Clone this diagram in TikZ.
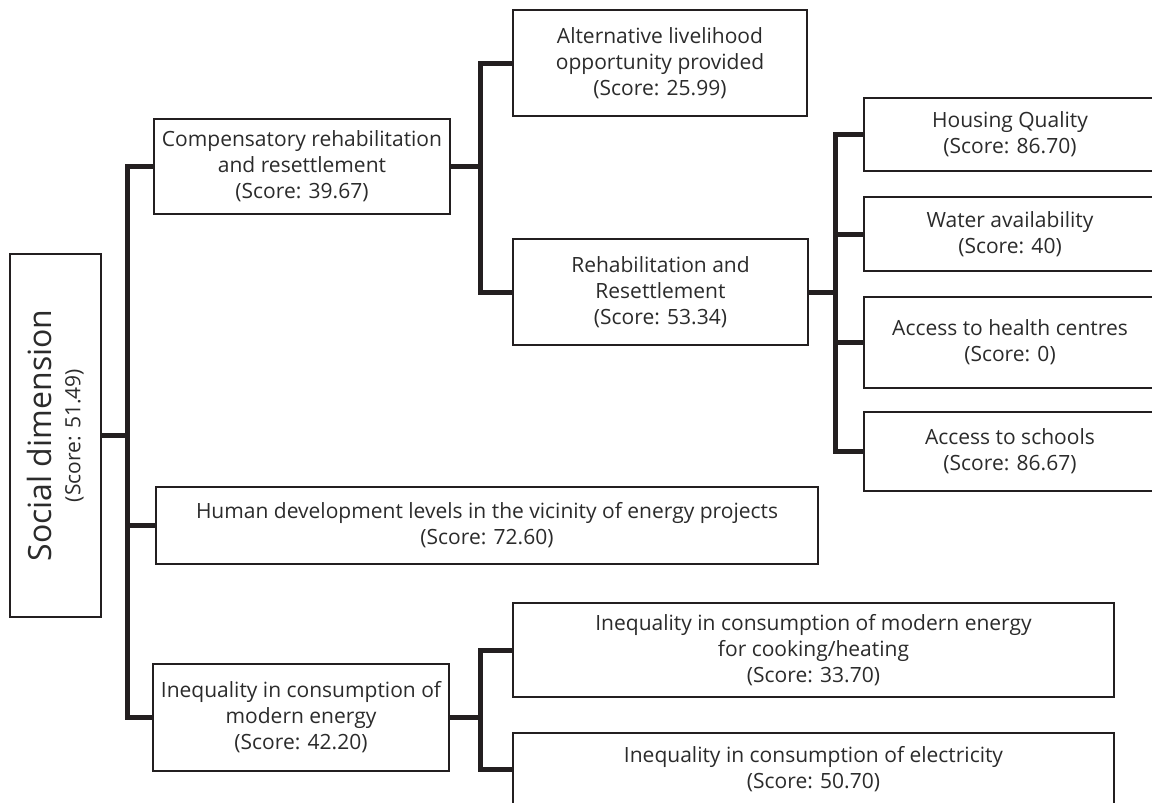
\documentclass[tikz,border=0pt]{standalone}
\usepackage{fontspec}
\setmainfont{Open Sans}
\usetikzlibrary{calc}
\definecolor{ink}{HTML}{231F20}
\definecolor{txt}{HTML}{2B2B2B}
\tikzset{
  box/.style={draw=ink, line width=2.4pt, fill=white, rectangle, inner sep=0pt,
    align=center, text=txt, font=\fontsize{21}{26}\selectfont},
  conn/.style={draw=ink, line width=5pt, line join=miter}
}
\begin{document}
\begin{tikzpicture}[x=1pt,y=-1pt]
\useasboundingbox (0,0) rectangle (1152,803);
\clip (0,0) rectangle (1152,803);
% nodes
\node[box, rotate=90, minimum width=363pt, minimum height=91pt] (root) at (55.5,435.5)
  {{\fontsize{32}{36}\selectfont Social dimension}\\[3pt](Score: 51.49)};
\node[box, minimum width=296pt, minimum height=95pt] (comp) at (302,166.5)
  {Compensatory rehabilitation\\and resettlement\\(Score: 39.67)};
\node[box, minimum width=294pt, minimum height=106pt] (alt) at (660,63)
  {Alternative livelihood\\opportunity provided\\(Score: 25.99)};
\node[box, minimum width=295pt, minimum height=106pt] (rehab) at (660.5,292)
  {Rehabilitation and\\Resettlement\\(Score: 53.34)};
\node[box, minimum width=292pt, minimum height=73pt] (housing) at (1010,134.5)
  {Housing Quality\\(Score: 86.70)};
\node[box, minimum width=292pt, minimum height=74pt] (water) at (1010,234)
  {Water availability\\(Score: 40)};
\node[box, minimum width=292pt, minimum height=91pt] (health) at (1010,342.5)
  {Access to health centres\\(Score: 0)};
\node[box, minimum width=292pt, minimum height=79pt] (schools) at (1010,451.5)
  {Access to schools\\(Score: 86.67)};
\node[box, minimum width=662pt, minimum height=77pt] (human) at (487,525.5)
  {Human development levels in the vicinity of energy projects\\(Score: 72.60)};
\node[box, minimum width=296pt, minimum height=107pt] (ineq) at (301,717.5)
  {Inequality in consumption of\\modern energy\\(Score: 42.20)};
\node[box, minimum width=601pt, minimum height=94pt] (cook) at (813.5,650)
  {Inequality in consumption of modern energy\\for cooking/heating\\(Score: 33.70)};
\node[box, minimum width=601pt, minimum height=72pt] (elec) at (813.5,769)
  {Inequality in consumption of electricity\\(Score: 50.70)};
% branch points
\coordinate (T) at (127,435.5);
\coordinate (B1) at (480,166.5);
\coordinate (B2) at (835,292);
\coordinate (B3) at (480,717.5);
% connectors
\draw[conn] (root.south) -- (T);
\draw[conn] (comp.west) -| (T) |- (ineq.west);
\draw[conn] (human.west) -- (human.west -| T);
\draw[conn] (comp.east) -- (B1);
\draw[conn] (alt.west) -| (B1) |- (rehab.west);
\draw[conn] (rehab.east) -- (B2);
\draw[conn] (housing.west) -| (B2) |- (schools.west);
\draw[conn] (water.west) -- (water.west -| B2);
\draw[conn] (health.west) -- (health.west -| B2);
\draw[conn] (ineq.east) -- (B3);
\draw[conn] (cook.west) -| (B3) |- (elec.west);
\end{tikzpicture}
\end{document}
